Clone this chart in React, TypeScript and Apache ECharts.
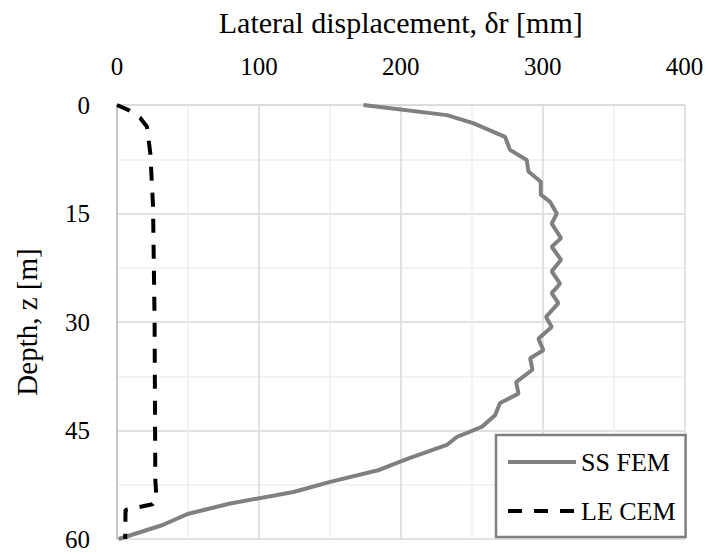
import React, { useEffect, useRef } from "react";
import * as echarts from "echarts";

const ssDisp = [173.7, 232.5, 251, 273.5, 277, 288.8, 290, 298.7, 298.7, 305.3, 310, 306.4, 313, 306.4, 313, 306.4, 312.3, 306.4, 311.1, 302.4, 306.4, 297, 300.5, 291.2, 292.8, 281.3, 283, 270, 266.5, 257.1, 239.5, 232.5, 206.6, 199.6, 184, 150.3, 124.4, 79.8, 50.4, 31.7, 1.2];
const ssDepth = [0, 1.4, 2.5, 4.4, 6.2, 7.6, 9.2, 10.6, 12.4, 13.4, 15, 16.4, 18.4, 19.6, 21.4, 23, 24.7, 26, 27.4, 29.3, 30.7, 32.3, 33.9, 35, 36.6, 38.3, 39.9, 41.2, 42.9, 44.5, 45.9, 47, 48.8, 49.3, 50.5, 52.1, 53.5, 55.1, 56.5, 58.1, 60];

const leDisp = [0, 8.2, 16.4, 21.1, 23.5, 25.4, 26.5, 27, 27.8, 25, 6, 5.8];
const leDepth = [0, 0.7, 1.8, 3.0, 6.7, 14, 30, 51.8, 54.3, 55.2, 56, 60];

const xTicks = [0, 100, 200, 300, 400];
const yTicks = [0, 15, 30, 45, 60];

const FONT = "'Liberation Serif', 'DejaVu Serif', serif";

export default function App() {
  const ref = useRef<HTMLDivElement>(null);
  useEffect(() => {
    if (!ref.current) return;
    const chart = echarts.init(ref.current, undefined, { renderer: "svg" });
    const ssData = ssDisp.map((v, i) => [v, ssDepth[i]]);
    const leData = leDisp.map((v, i) => [v, leDepth[i]]);
    chart.setOption({
      animation: false,
      backgroundColor: "#ffffff",
      grid: { left: 117, top: 105, right: 23.5, bottom: 15, containLabel: false },
      xAxis: {
        type: "value",
        position: "top",
        min: xTicks[0],
        max: xTicks[xTicks.length - 1],
        interval: 100,
        name: "Lateral displacement, δr [mm]",
        nameLocation: "middle",
        nameGap: 68,
        nameTextStyle: { fontFamily: FONT, fontSize: 30, color: "#000" },
        axisLine: { show: true, lineStyle: { color: "#d9d9d9", width: 1.5 } },
        axisTick: { show: false },
        axisLabel: { fontFamily: FONT, fontSize: 25, color: "#000", margin: 26 },
        splitLine: { show: true, lineStyle: { color: "#d9d9d9", width: 1.5 } },
        minorTick: { show: false, splitNumber: 2 },
        minorSplitLine: { show: true, lineStyle: { color: "#efefef", width: 1.5 } },
      },
      yAxis: {
        type: "value",
        inverse: true,
        min: yTicks[0],
        max: yTicks[yTicks.length - 1],
        interval: 15,
        name: "Depth, z [m]",
        nameLocation: "middle",
        nameGap: 76,
        nameTextStyle: { fontFamily: FONT, fontSize: 29, color: "#000" },
        axisLine: { show: true, lineStyle: { color: "#bfbfbf", width: 1.5 } },
        axisTick: { show: false },
        axisLabel: { fontFamily: FONT, fontSize: 25, color: "#000", margin: 27 },
        splitLine: { show: true, lineStyle: { color: "#d9d9d9", width: 1.5 } },
        minorTick: { show: false, splitNumber: 2 },
        minorSplitLine: { show: true, lineStyle: { color: "#efefef", width: 1.5 } },
      },
      legend: {
        orient: "vertical",
        left: 496,
        top: 435,
        padding: [14, 10, 13, 10],
        itemGap: 23,
        itemWidth: 68,
        itemHeight: 20,
        borderColor: "#808080",
        borderWidth: 2.5,
        backgroundColor: "#ffffff",
        itemStyle: { opacity: 0 },
        lineStyle: { width: 4 },
        textStyle: { fontFamily: FONT, fontSize: 26, color: "#000" },
        data: ["SS FEM", "LE CEM"],
      },
      series: [
        {
          name: "SS FEM",
          type: "line",
          data: ssData,
          symbol: "none",
          lineStyle: { color: "#808080", width: 4 },
          itemStyle: { color: "#808080" },
        },
        {
          name: "LE CEM",
          type: "line",
          data: leData,
          symbol: "none",
          lineStyle: { color: "#000000", width: 4, type: [14, 12] },
          itemStyle: { color: "#000000" },
        },
      ],
    });
    return () => chart.dispose();
  }, []);
  return <div ref={ref} style={{ width: 708, height: 554, position: "absolute", left: 0, top: 0 }} />;
}
